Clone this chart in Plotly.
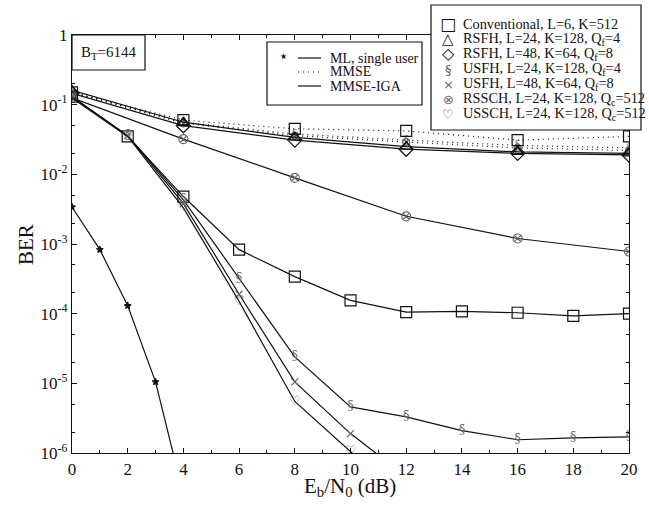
import plotly.graph_objects as go

# ---------------- data ----------------
snr_ml = [0, 1, 2, 3, 4]
ber_ml = [3.4e-3, 8.3e-4, 1.3e-4, 1.05e-5, 2.5e-7]

snr_all = [0, 2, 4, 6, 8, 10, 12, 14, 16, 18, 20]
ber_conv_iga = [0.13, 0.035, 4.8e-3, 8.3e-4, 3.4e-4, 1.55e-4, 1.05e-4, 1.08e-4, 1.03e-4, 9.3e-5, 1.0e-4]
ber_usfh24_iga = [0.13, 0.036, 4.3e-3, 3.2e-4, 2.4e-5, 4.6e-6, 3.3e-6, 2.1e-6, 1.55e-6, 1.65e-6, 1.7e-6]

snr_low = [0, 2, 4, 6, 8, 10, 12]
ber_usfh48_iga = [0.13, 0.036, 3.8e-3, 1.9e-4, 1.05e-5, 1.9e-6, 4.6e-7]
ber_ussch_iga = [0.125, 0.035, 3.3e-3, 1.5e-4, 5.5e-6, 1.05e-6, 2.0e-7]

snr_q = [0, 4, 8, 12, 16, 20]
ber_conv_mmse = [0.15, 0.060, 0.045, 0.042, 0.031, 0.035]
ber_usfh_mmse = [0.15, 0.056, 0.038, 0.031, 0.026, 0.024]
ber_rssch_mmse = [0.15, 0.054, 0.036, 0.029, 0.024, 0.022]
ber_rsfh24_iga = [0.16, 0.056, 0.034, 0.025, 0.021, 0.020]
ber_rsfh48_iga = [0.145, 0.050, 0.031, 0.023, 0.020, 0.019]
ber_rssch_iga = [0.125, 0.032, 8.9e-3, 2.5e-3, 1.2e-3, 7.8e-4]

x_ticks = [0, 2, 4, 6, 8, 10, 12, 14, 16, 18, 20]
y_tickvals = [1, 1e-1, 1e-2, 1e-3, 1e-4, 1e-5, 1e-6]
y_ticktext = ["1", "10<sup>-1</sup>", "10<sup>-2</sup>", "10<sup>-3</sup>",
              "10<sup>-4</sup>", "10<sup>-5</sup>", "10<sup>-6</sup>"]

legend_systems = [
    ("□", "Conventional, L=6, K=512"),
    ("△", "RSFH, L=24, K=128, Q<sub>f</sub>=4"),
    ("◇", "RSFH, L=48, K=64, Q<sub>f</sub>=8"),
    ("§", "USFH, L=24, K=128, Q<sub>f</sub>=4"),
    ("×", "USFH, L=48, K=64, Q<sub>f</sub>=8"),
    ("⊗", "RSSCH, L=24, K=128, Q<sub>c</sub>=512"),
    ("♡", "USSCH, L=24, K=128, Q<sub>c</sub>=512"),
]
legend_methods = ["ML, single user", "MMSE", "MMSE-IGA"]

# ---------------- figure ----------------
FONT = "Liberation Serif, Times New Roman, serif"
BLACK = "#111111"
GRAY = "#666666"
DOT = "1px,4px"

fig = go.Figure()

def line_trace(x, y, dash="solid", symbol=None, msize=10, mcolor=BLACK, text=None, tsize=12):
    mode = "lines"
    kw = {}
    if symbol is not None:
        mode += "+markers"
        kw["marker"] = dict(symbol=symbol, size=msize, color=mcolor,
                            line=dict(color=mcolor, width=1.2))
    if text is not None:
        mode += "+text"
        kw["text"] = [text] * len(x)
        kw["textposition"] = "middle center"
        kw["textfont"] = dict(family="DejaVu Serif, Liberation Serif, serif", size=tsize, color=mcolor)
    fig.add_trace(go.Scatter(x=x, y=y, mode=mode, showlegend=False, cliponaxis=True,
                             hoverinfo="skip",
                             line=dict(color=BLACK, width=1.2, dash=dash), **kw))

# dotted MMSE curves
line_trace(snr_q, ber_usfh_mmse, dash=DOT, text="§", mcolor=GRAY, tsize=11)
line_trace(snr_q, ber_rssch_mmse, dash=DOT, symbol="circle-x-open", msize=7, mcolor=GRAY)
line_trace(snr_q, ber_conv_mmse, dash=DOT, symbol="square-open", msize=11)

# MMSE-IGA curves (solid)
line_trace(snr_q, ber_rsfh24_iga, symbol="triangle-up-open", msize=10)
line_trace(snr_q, ber_rsfh48_iga, symbol="diamond-open", msize=11)
line_trace(snr_q, ber_rssch_iga, symbol="circle-x-open", msize=9, mcolor=GRAY)
line_trace(snr_all, ber_conv_iga, symbol="square-open", msize=11)
line_trace(snr_all, ber_usfh24_iga, text="§", mcolor=GRAY, tsize=13)
line_trace(snr_low, ber_usfh48_iga, symbol="x-thin-open", msize=7, mcolor=GRAY)
line_trace(snr_low, ber_ussch_iga, text="♡", mcolor=GRAY, tsize=13)

# ML single user
line_trace(snr_ml, ber_ml, symbol="star", msize=5)

axis_common = dict(showline=True, linecolor=BLACK, linewidth=1.2, mirror="ticks",
                   ticks="inside", ticklen=5, tickcolor=BLACK, tickwidth=1,
                   showgrid=False, zeroline=False, automargin=False,
                   tickfont=dict(family=FONT, size=17, color=BLACK))

fig.update_xaxes(range=[0, 20], tickvals=x_ticks,
                 minor=dict(dtick=1, ticks="inside", ticklen=3, tickcolor=BLACK, showgrid=False),
                 **axis_common)
fig.update_yaxes(type="log", range=[-6, 0], tickvals=y_tickvals, ticktext=y_ticktext,
                 minor=dict(ticks="inside", ticklen=3, tickcolor=BLACK, showgrid=False),
                 **axis_common)

shapes = []
annotations = []

L, T, W, H = 72, 35, 557, 418
def px(xp):
    return (xp - L) / W
def py(yp):
    return 1 - (yp - T) / H

def text_at(xp, yp, text, size, color=BLACK, family=FONT, xanchor="center", angle=0):
    annotations.append(dict(xref="paper", yref="paper", x=px(xp), y=py(yp), text=text,
                            xanchor=xanchor, yanchor="middle", showarrow=False,
                            textangle=angle,
                            font=dict(family=family, size=size, color=color)))

# axis titles
text_at(26, 244, "BER", 21, angle=-90)
text_at(350, 487, "E<sub>b</sub>/N<sub>0</sub> (dB)", 21)

# B_T box
shapes.append(dict(type="rect", xref="paper", yref="paper", x0=px(72), x1=px(145),
                   y0=py(70), y1=py(35), line=dict(color=BLACK, width=1.2),
                   fillcolor="white", layer="above"))
text_at(108, 53, "B<sub>T</sub>=6144", 15)

# method legend box
shapes.append(dict(type="rect", xref="paper", yref="paper", x0=px(267), x1=px(422),
                   y0=py(105), y1=py(42), line=dict(color=BLACK, width=1.2),
                   fillcolor="white", layer="above"))
method_rows = [58, 72, 86]
method_dash = ["solid", DOT, "solid"]
for row, name, dash in zip(method_rows, legend_methods, method_dash):
    shapes.append(dict(type="line", xref="paper", yref="paper", x0=px(298), x1=px(321),
                       y0=py(row), y1=py(row), line=dict(color=BLACK, width=1.2, dash=dash),
                       layer="above"))
    text_at(328, row, name, 14, xanchor="left")
text_at(283, 57, "★", 8, family="DejaVu Sans")

# system legend box
shapes.append(dict(type="rect", xref="paper", yref="paper", x0=px(431), x1=px(641),
                   y0=py(130), y1=py(5), line=dict(color=BLACK, width=1.2),
                   fillcolor="white", layer="above"))
sys_rows = [24, 39, 54, 69, 84, 99, 114]
glyph_colors = [BLACK, BLACK, BLACK, GRAY, GRAY, GRAY, GRAY]
glyph_sizes = [17, 15, 16, 13, 13, 13, 13]
for row, (glyph, name), gc, gs in zip(sys_rows, legend_systems, glyph_colors, glyph_sizes):
    text_at(448, row, glyph, gs, color=gc, family="DejaVu Sans")
    text_at(461, row, name, 14.3, xanchor="left")

fig.update_layout(width=649, height=506,
                  margin=dict(l=L, r=649 - L - W, t=T, b=506 - T - H),
                  paper_bgcolor="white", plot_bgcolor="white",
                  shapes=shapes, annotations=annotations,
                  font=dict(family=FONT, color=BLACK))

fig.write_html("out.html", config={"displayModeBar": False},
               post_script="document.body.style.margin='0';document.body.style.padding='0';"
                           "document.documentElement.style.overflow='hidden';")
